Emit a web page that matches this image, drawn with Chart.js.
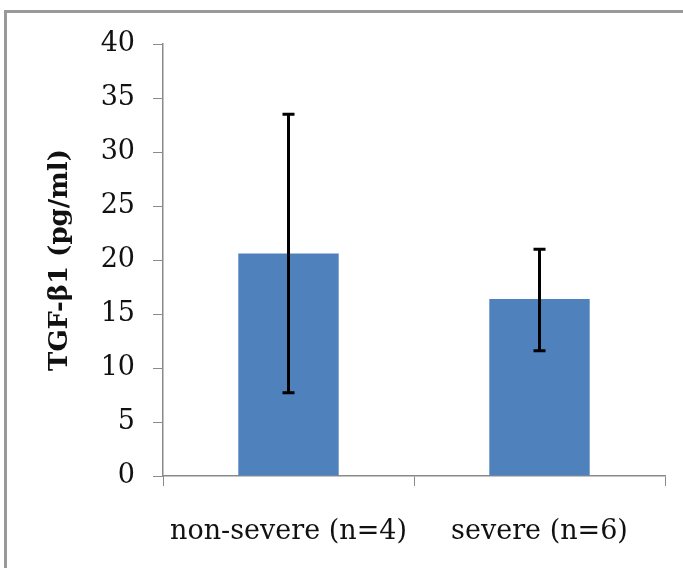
<!DOCTYPE html>
<html>
<head>
<meta charset="utf-8">
<script src="https://cdn.jsdelivr.net/npm/chart.js@4/dist/chart.umd.min.js"></script>
<style>
  html, body { margin:0; padding:0; background:#fff; }
  #wrap { position:relative; width:683px; height:568px; overflow:hidden; }
  #frame { position:absolute; left:4px; top:10px; width:800px; height:700px; border-top:3px solid #999; border-left:3px solid #999; box-sizing:border-box; }
  #chart { position:absolute; left:0; top:0; }
</style>
</head>
<body>
<div id="wrap">
  <div id="frame"></div>
  <canvas id="chart" width="683" height="568"></canvas>
</div>
<script>
// datos
const categories = ['non-severe (n=4)', 'severe (n=6)'];
const means = [20.6, 16.4];
const errLow = [7.7, 11.6];
const errHigh = [33.5, 21.0];
const yTicks = [0, 5, 10, 15, 20, 25, 30, 35, 40];

const AXIS = '#8a8a8a';
const SERIF = '"DejaVu Serif", serif';

// barras de error dibujadas con la escala y
const errorBars = {
  id: 'errorBars',
  afterDatasetsDraw(chart){
    const ctx = chart.ctx, y = chart.scales.y;
    const meta = chart.getDatasetMeta(0);
    ctx.save();
    ctx.strokeStyle = '#000';
    ctx.lineWidth = 3;
    meta.data.forEach((bar, i) => {
      const x = bar.x;
      const top = y.getPixelForValue(errHigh[i]);
      const bot = y.getPixelForValue(errLow[i]);
      ctx.beginPath();
      ctx.moveTo(x, top); ctx.lineTo(x, bot);
      ctx.moveTo(x - 6, top); ctx.lineTo(x + 6, top);
      ctx.moveTo(x - 6, bot); ctx.lineTo(x + 6, bot);
      ctx.stroke();
    });
    ctx.restore();
  }
};

new Chart(document.getElementById('chart'), {
  type: 'bar',
  data: {
    labels: categories,
    datasets: [{ data: means, backgroundColor: '#4f81bd', barPercentage: 0.4, categoryPercentage: 1 }]
  },
  options: {
    responsive: false,
    animation: false,
    layout: { padding: { top: 44, right: 18, left: 0, bottom: 0 } },
    plugins: { legend: { display: false }, tooltip: { enabled: false } },
    scales: {
      x: {
        afterFit: s => { s.height = 92; },
        grid: { drawOnChartArea: false, color: AXIS, tickLength: 10, offset: true },
        border: { color: AXIS, width: 1.5 },
        ticks: { color: '#111', font: { family: SERIF, size: 27 }, padding: 30, maxRotation: 0 }
      },
      y: {
        min: 0, max: 40,
        afterFit: s => { s.width = 163; },
        afterBuildTicks: s => { s.ticks = yTicks.map(v => ({ value: v })); },
        grid: { drawOnChartArea: false, color: AXIS, tickLength: 10 },
        border: { color: AXIS, width: 1.5 },
        ticks: { color: '#111', font: { family: SERIF, size: 27 }, padding: 18 },
        title: {
          display: true, text: 'TGF-β1 (pg/ml)', color: '#111',
          font: { family: SERIF, size: 26, weight: 'bold' },
          padding: { top: 45, bottom: 0 }
        }
      }
    }
  },
  plugins: [errorBars]
});
</script>
</body>
</html>
